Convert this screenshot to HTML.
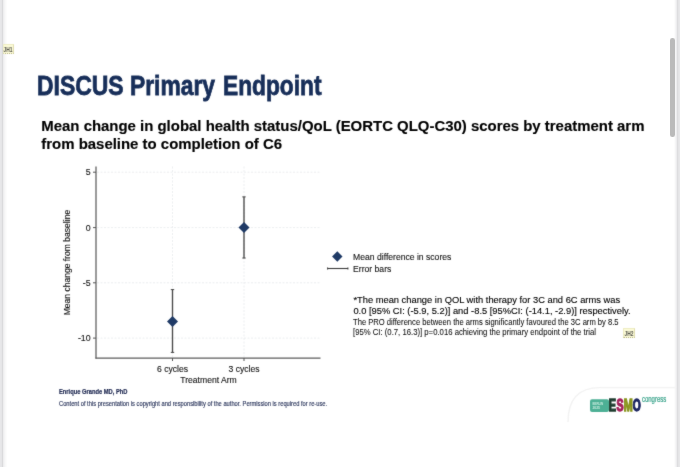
<!DOCTYPE html>
<html><head><meta charset="utf-8">
<style>
html,body{margin:0;padding:0;background:#fff;}
body{width:680px;height:467px;position:relative;overflow:hidden;will-change:transform;font-family:"Liberation Sans",sans-serif;}
#wrap{position:absolute;left:0;top:0;width:680px;height:467px;filter:url(#bl);}
.a{position:absolute;white-space:nowrap;transform-origin:0 0;line-height:1;}
#lstrip{left:0;top:0;width:7px;height:467px;background:linear-gradient(90deg,#e7e7e9 0px,#e7e7e9 1px,#e5e5e7 1px,#e5e5e7 2px,#dadadc 2px,#dadadc 3px,#eeeeef 3px,#eeeeef 4px,#f4f4f5 4px,#f4f4f5 5px,#f9f9f9 5px,#f9f9f9 6px,#fcfcfc 6px,#fcfcfc 7px);}
#rstrip{left:674px;top:0;width:6px;height:467px;background:linear-gradient(90deg,#fcfcfc 0px,#fcfcfc 1px,#f5f5f6 1px,#f5f5f6 2px,#ededef 2px,#ededef 3px,#dddddf 3px,#dddddf 4px,#e4e4e6 4px,#e4e4e6 5px,#e7e7e9 5px,#e7e7e9 6px);}
#scroll{left:670.2px;top:38.4px;width:4.6px;height:98.2px;background:#bababa;border-radius:2.3px;}
.tag{background:#fbfad6;border:1px solid #efedc4;border-bottom:1px dotted #b9b68c;border-right-color:#e2dfb2;box-sizing:border-box;font-size:7px;font-weight:bold;color:#55554e;text-align:center;}
.tag span{position:absolute;left:50%;top:1px;transform:translateX(-50%) scaleX(.70);transform-origin:50% 50%;}
#jh1{left:3px;top:43.8px;width:10.9px;height:10px;line-height:8.6px;}
#jh2{left:623.3px;top:328.1px;width:11.8px;height:9.6px;line-height:8px;}
.tt{top:72.4px;font-size:27.5px;font-weight:bold;color:#172e59;-webkit-text-stroke:.8px #172e59;}
#t1{left:36.9px;transform:scaleX(.834);}
#t2{left:130.3px;transform:scaleX(.830);}
#t3{left:222.9px;transform:scaleX(.827);}
#sub{left:41.3px;top:117.2px;font-size:14.95px;font-weight:bold;color:#000;line-height:17.6px;-webkit-text-stroke:.15px #000;}
.ct{font-size:8.6px;color:#151515;-webkit-text-stroke:.12px #151515;}
#leg1{left:353.1px;top:253px;}
#leg2{left:353.1px;top:264.6px;}
.p1{font-size:9.33px;color:#000;-webkit-text-stroke:.12px #000;}
#p1a{left:353.4px;top:296px;}
#p1b{left:353.4px;top:307px;}
.p2{font-size:8.4px;color:#0a0a0a;-webkit-text-stroke:.05px #0a0a0a;}
#p2a{left:353.4px;top:317.8px;transform:scaleX(.909);}
#p2b{left:353.4px;top:328.3px;transform:scaleX(.923);}
#auth{left:59.3px;top:388.7px;font-size:6.5px;font-weight:bold;color:#222c54;-webkit-text-stroke:.2px #222c54;transform:scaleX(.885);}
#copy{left:59px;top:401.2px;font-size:6.3px;color:#2b365c;-webkit-text-stroke:.15px #2b365c;transform:scaleX(.912);}
</style></head><body>
<div class="a" id="lstrip"></div>
<div class="a" id="rstrip"></div>
<div class="a" id="scroll"></div>
<svg width="0" height="0" style="position:absolute"><filter id="bl" x="0" y="0" width="100%" height="100%" color-interpolation-filters="sRGB"><feConvolveMatrix order="3" kernelMatrix="0.5 2 0.5 2 20 2 0.5 2 0.5" divisor="30" edgeMode="none" preserveAlpha="false"/></filter></svg>
<div id="wrap">
<div class="a tag" id="jh1"><span>JH1</span></div>
<h1 id="title" style="margin:0;font-size:inherit;font-weight:inherit"><span class="a tt" id="t1">DISCUS </span><span class="a tt" id="t2">Primary </span><span class="a tt" id="t3">Endpoint</span></h1>
<div class="a" id="sub">Mean change in global health status/QoL (EORTC QLQ-C30) scores by treatment arm<br>from baseline to completion of C6</div>

<svg class="a" id="chart" style="left:40px;top:160px" width="300" height="235" viewBox="40 160 300 235" font-family="Liberation Sans, sans-serif">
  <g stroke="#eceef0" stroke-width="1" stroke-dasharray="2 1.5">
    <line x1="97" y1="172.2" x2="320.5" y2="172.2"/>
    <line x1="97" y1="227.6" x2="320.5" y2="227.6"/>
    <line x1="97" y1="282.8" x2="320.5" y2="282.8"/>
    <line x1="97" y1="338.1" x2="320.5" y2="338.1"/>
    <line x1="172.5" y1="166.5" x2="172.5" y2="357"/>
    <line x1="244" y1="166.5" x2="244" y2="357"/>
  </g>
  <g stroke="#5c5c5c" stroke-width="1.25">
    <line x1="96" y1="166.5" x2="96" y2="358.5"/>
    <line x1="95.4" y1="358" x2="320.5" y2="358"/>
  </g>
  <g stroke="#555" stroke-width="1">
    <line x1="93" y1="172.2" x2="96" y2="172.2"/>
    <line x1="93" y1="227.6" x2="96" y2="227.6"/>
    <line x1="93" y1="282.8" x2="96" y2="282.8"/>
    <line x1="93" y1="338.1" x2="96" y2="338.1"/>
    <line x1="172.5" y1="358" x2="172.5" y2="361"/>
    <line x1="244" y1="358" x2="244" y2="361"/>
  </g>
  <g stroke="#484848" stroke-width="1.35">
    <line x1="172.5" y1="289.4" x2="172.5" y2="352.6"/>
    <line x1="244" y1="196.7" x2="244" y2="258.2"/>
  </g>
  <g stroke="#484848" stroke-width="1">
    <line x1="170.8" y1="289.6" x2="174.2" y2="289.6"/>
    <line x1="170.8" y1="352.4" x2="174.2" y2="352.4"/>
    <line x1="242.3" y1="196.9" x2="245.7" y2="196.9"/>
    <line x1="242.3" y1="258" x2="245.7" y2="258"/>
  </g>
  <g fill="#1f3a66">
    <path d="M172.5 315.9 L178 321.4 L172.5 326.9 L167 321.4Z"/>
    <path d="M244 222.1 L249.5 227.6 L244 233.1 L238.5 227.6Z"/>
  </g>
  <g font-size="8.8" fill="#151515" stroke="#151515" stroke-width=".12" text-anchor="end">
    <text x="90.6" y="175.3">5</text>
    <text x="90.6" y="230.7">0</text>
    <text x="90.6" y="285.9">-5</text>
    <text x="90.6" y="341.2">-10</text>
  </g>
  <g font-size="8.6" fill="#151515" stroke="#151515" stroke-width=".12" text-anchor="middle">
    <text x="172.6" y="371.7">6 cycles</text>
    <text x="244" y="371.7">3 cycles</text>
    <text x="208.5" y="383.4">Treatment Arm</text>
    <text transform="translate(70.2,262.6) rotate(-90)" font-size="8.55">Mean change from baseline</text>
  </g>
</svg>

<svg class="a" id="legicons" style="left:320px;top:245px" width="34" height="30" viewBox="320 245 34 30">
  <path d="M337.3 251.3 L342.5 256.5 L337.3 261.7 L332.1 256.5Z" fill="#1f3a66"/>
  <g stroke="#3c3c3c">
  <line x1="327.3" y1="268.5" x2="348.2" y2="268.5" stroke-width="1.1"/>
  <line x1="327.6" y1="267.3" x2="327.6" y2="269.7" stroke-width=".8"/>
  <line x1="347.9" y1="267.3" x2="347.9" y2="269.7" stroke-width=".8"/>
  </g>
</svg>
<div class="a ct" id="leg1">Mean difference in scores</div>
<div class="a ct" id="leg2">Error bars</div>

<div class="a p1" id="p1a">*The mean change in QOL with therapy for 3C and 6C arms was</div>
<div class="a p1" id="p1b">0.0 [95% CI: (-5.9, 5.2)] and -8.5 [95%CI: (-14.1, -2.9)] respectively.</div>
<div class="a p2" id="p2a">The PRO difference between the arms significantly favoured the 3C arm by 8.5</div>
<div class="a p2" id="p2b">[95% CI: (0.7, 16.3)] p=0.016 achieving the primary endpoint of the trial</div>
<div class="a tag" id="jh2"><span>JH2</span></div>

<div class="a" id="auth">Enrique Grande MD, PhD</div>
<div class="a" id="copy">Content of this presentation is copyright and responsibility of the author. Permission is required for re-use.</div>

<svg class="a" id="logo" style="left:560px;top:380px" width="120" height="50" viewBox="560 380 120 50" font-family="Liberation Sans, sans-serif">
  <path d="M568 422 C568 398 580 387.6 600 387.6 L676 387.6" fill="none" stroke="#f2f2f2" stroke-width="1.4"/>
  <rect x="590" y="399.2" width="19" height="12.8" rx="2" fill="#4db095"/>
  <g font-size="4.1" font-weight="bold" fill="#c9ecdf">
    <text x="592.4" y="404.6" textLength="10.8" lengthAdjust="spacingAndGlyphs">BERLIN</text>
    <text x="592.4" y="409.4" textLength="7.6" lengthAdjust="spacingAndGlyphs">2025</text>
  </g>
  <g font-size="16" font-weight="bold" stroke-width="1.3">
    <text x="608.85" y="411.35" textLength="7.29" lengthAdjust="spacingAndGlyphs" fill="#1d3b2e" stroke="#1d3b2e">E</text>
    <text x="616.47" y="411.35" textLength="7.11" lengthAdjust="spacingAndGlyphs" fill="#a4215b" stroke="#a4215b">S</text>
    <text x="623.69" y="411.35" textLength="9.01" lengthAdjust="spacingAndGlyphs" fill="#8a951f" stroke="#8a951f">M</text>
    <text x="632.8" y="411.35" textLength="8" lengthAdjust="spacingAndGlyphs" fill="#1c2661" stroke="#1c2661">O</text>
  </g>
  <text transform="translate(641.9,401.6) scale(.675,1)" font-size="8.9" fill="#3aa38b" stroke="#3aa38b" stroke-width=".25">congress</text>
</svg>
</div>
</body></html>
